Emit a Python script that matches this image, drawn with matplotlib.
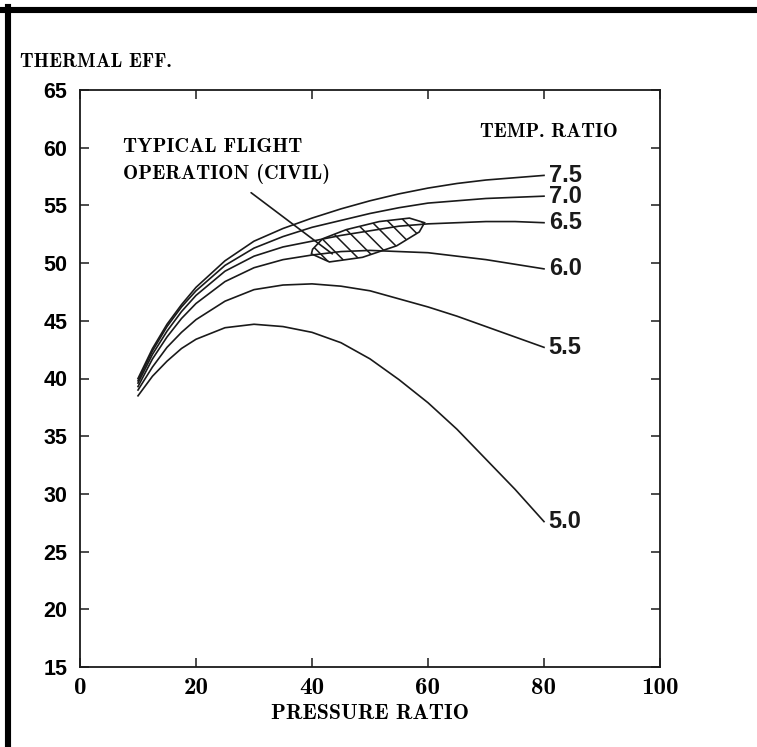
import matplotlib
matplotlib.use('Agg')
import matplotlib.pyplot as plt
from matplotlib.lines import Line2D

pressure = [10, 12.5, 15, 17.5, 20, 25, 30, 35, 40, 45, 50, 55, 60, 65, 70, 75, 80]

# thermal efficiency (%) for each temperature ratio
eff_50 = [38.5, 40.2, 41.5, 42.6, 43.4, 44.4, 44.7, 44.5, 44.0, 43.1, 41.7, 39.9, 37.9, 35.6, 33.0, 30.4, 27.6]
eff_55 = [39.0, 41.0, 42.7, 44.0, 45.1, 46.7, 47.7, 48.1, 48.2, 48.0, 47.6, 46.9, 46.2, 45.4, 44.5, 43.6, 42.7]
eff_60 = [39.3, 41.7, 43.6, 45.2, 46.5, 48.4, 49.6, 50.3, 50.7, 51.0, 51.1, 51.0, 50.9, 50.6, 50.3, 49.9, 49.5]
eff_65 = [39.6, 42.1, 44.1, 45.8, 47.2, 49.3, 50.6, 51.4, 51.9, 52.4, 52.8, 53.2, 53.4, 53.5, 53.6, 53.6, 53.5]
eff_70 = [39.8, 42.4, 44.5, 46.2, 47.6, 49.8, 51.3, 52.3, 53.1, 53.7, 54.3, 54.8, 55.2, 55.4, 55.6, 55.7, 55.8]
eff_75 = [40.0, 42.6, 44.7, 46.4, 47.9, 50.2, 51.9, 53.0, 53.9, 54.7, 55.4, 56.0, 56.5, 56.9, 57.2, 57.4, 57.6]

temp_labels = ['5.0', '5.5', '6.0', '6.5', '7.0', '7.5']
curves = [eff_50, eff_55, eff_60, eff_65, eff_70, eff_75]

# outline of the typical flight operation region
region_x = [39.9, 43.0, 48.7, 54.6, 58.5, 59.4, 56.8, 51.6, 45.9, 41.8, 40.1]
region_y = [50.8, 50.1, 50.5, 51.5, 52.7, 53.5, 53.9, 53.6, 52.9, 52.1, 51.2]

x_ticks = [0, 20, 40, 60, 80, 100]
y_ticks = [15, 20, 25, 30, 35, 40, 45, 50, 55, 60, 65]

serif = 'cmb10'
sans = 'Liberation Sans'
ink = '#1a1a1a'
plt.rcParams['hatch.linewidth'] = 1.1
plt.rcParams['hatch.color'] = ink
plt.rcParams['axes.formatter.use_mathtext'] = True

fig = plt.figure(figsize=(7.57, 7.47), dpi=100)
ax = fig.add_axes([80 / 757, 1 - 667 / 747, 580 / 757, 577 / 747])

for vals, lab in zip(curves, temp_labels):
    ax.plot(pressure, vals, color=ink, lw=1.2)
    ax.text(pressure[-1] + 0.8, vals[-1], lab, family=sans, fontweight='bold',
            fontsize=17, ha='left', va='center', color=ink)

ax.fill(region_x, region_y, facecolor='none', edgecolor=ink, lw=1.2, hatch='\\\\')

ax.annotate('', xy=(43.5, 50.8), xytext=(29.5, 56.1),
            arrowprops=dict(arrowstyle='-', color=ink, lw=1.2, shrinkA=0, shrinkB=0))
ax.text(7.4, 60.1, 'TYPICAL FLIGHT', family=serif, fontsize=14.6, ha='left', va='center')
ax.text(7.4, 57.7, 'OPERATION (CIVIL)', family=serif, fontsize=14.6, ha='left', va='center')
ax.text(68.9, 61.35, 'TEMP. RATIO', family=serif, fontsize=14.3, ha='left', va='center')

ax.set_xlim(0, 100)
ax.set_ylim(15, 65)
ax.set_xticks(x_ticks)
ax.set_yticks(y_ticks)
ax.set_xticklabels([str(v) for v in x_ticks], family=serif, fontsize=18)
ax.set_yticklabels([str(v) for v in y_ticks], family=sans, fontweight='bold', fontsize=15.5)
ax.tick_params(direction='in', length=6.5, width=1.1, top=True, right=True, color=ink)
ax.tick_params(axis='y', pad=9)
ax.tick_params(axis='x', pad=7)
for sp in ax.spines.values():
    sp.set_linewidth(1.3)
    sp.set_color(ink)

ax.set_xlabel('PRESSURE RATIO', family=serif, fontsize=15.7, labelpad=4)
fig.text(20 / 757, 1 - 62 / 747, 'THERMAL EFF.', family=serif, fontsize=14.2, ha='left', va='center')

# scan frame: thick black bars along top and left
fig.add_artist(Line2D([0, 1], [1 - 10 / 747, 1 - 10 / 747], color='black', lw=4.4,
                      transform=fig.transFigure))
fig.add_artist(Line2D([7.5 / 757, 7.5 / 757], [0, 1 - 7 / 747], color='black', lw=4.4,
                      transform=fig.transFigure))

fig.savefig('out.png', dpi=100)
